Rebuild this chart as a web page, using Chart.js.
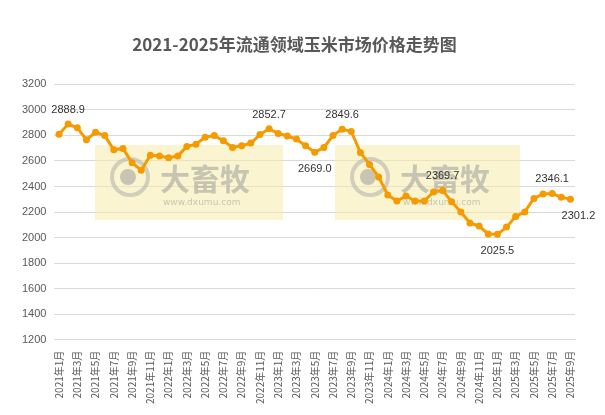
<!DOCTYPE html>
<html><head><meta charset="utf-8">
<script src="https://cdn.jsdelivr.net/npm/chart.js@4"></script>
<style>html,body{margin:0;background:#fff}#w{width:605px;height:415px}</style>
</head><body><div id="w"><canvas id="c"></canvas></div>
<script>
const categories=[];
for(let y=2021;y<=2025;y++)for(let m=1;m<=12;m++){if(y===2025&&m>9)break;categories.push(y+'年'+m+'月');}
const prices=[2810,2888.9,2860,2767,2825,2799,2688,2698,2586,2528,2645,2639,2626,2639,2714,2732,2786,2799,2759,2706,2719,2740,2807,2852.7,2815,2796,2772,2719,2669.0,2706,2799,2849.6,2831,2666,2573,2475,2334,2286,2326,2286,2286,2358,2369.7,2280,2201,2114,2090,2028,2025.5,2082,2166,2201,2307,2342,2346.1,2315,2301.2];
const labelIdx=[1,23,28,31,42,48,54,56];
const labelBelow=[28,48,56];
const yTicks=[1200,1400,1600,1800,2000,2200,2400,2600,2800,3000,3200];
const deco={id:'deco',beforeDatasetsDraw(ch){const c=ch.ctx;c.save();
 [[95,145,188,75],[335,145,185,75]].forEach(([x,y,w,h])=>{c.fillStyle='rgba(245,236,170,0.55)';c.fillRect(x,y,w,h);
 c.strokeStyle='rgba(170,170,170,0.5)';c.lineWidth=4;c.beginPath();c.arc(x+35,y+32,18,0,7);c.stroke();
 c.fillStyle='rgba(150,150,150,0.5)';c.beginPath();c.arc(x+33,y+32,8,0,7);c.fill();
 c.font='bold 30px "Noto Sans CJK SC"';c.fillText('大畜牧',x+65,y+45);
 c.font='9px "DejaVu Sans"';c.fillText('www.dxumu.com',x+68,y+60);});c.restore();},
 afterDatasetsDraw(ch){const c=ch.ctx,m=ch.getDatasetMeta(0);c.save();c.font='11px "Liberation Sans"';c.fillStyle='#333';c.textAlign='center';
 labelIdx.forEach(i=>{const p=m.data[i];let below=labelBelow.includes(i);let x=p.x,y=below?p.y+20:p.y-11;if(i===56){x+=8;}c.fillText(prices[i].toFixed(1),x,y);});c.restore();}};
new Chart(document.getElementById('c'),{type:'line',data:{labels:categories,datasets:[{data:prices,borderColor:'#F59B00',backgroundColor:'#F59B00',borderWidth:3,pointRadius:3.5,pointBorderWidth:0,tension:0}]},
options:{responsive:true,maintainAspectRatio:false,animation:false,layout:{padding:{left:14,right:30,top:8,bottom:8}},
plugins:{legend:{display:false},tooltip:{enabled:false},title:{display:true,text:'2021-2025年流通领域玉米市场价格走势图',color:'#595959',font:{size:17,weight:'bold',family:'"Noto Sans CJK SC"'},padding:{top:26,bottom:30}}},
scales:{y:{min:1200,max:3200,afterBuildTicks(a){a.ticks=yTicks.map(v=>({value:v}));},ticks:{color:'#595959',font:{size:11,family:'"Liberation Sans"'},padding:8,callback:v=>String(v)},grid:{color:'#d9d9d9',drawTicks:false},border:{display:false}},
x:{offset:true,ticks:{color:'#595959',font:{size:10,family:'"Noto Sans CJK SC"'},maxRotation:90,minRotation:90,autoSkip:false,callback:(v,i)=>i%2===0?categories[i]:''},grid:{display:false},border:{color:'#d9d9d9'}}}},plugins:[deco]});
</script></body></html>
